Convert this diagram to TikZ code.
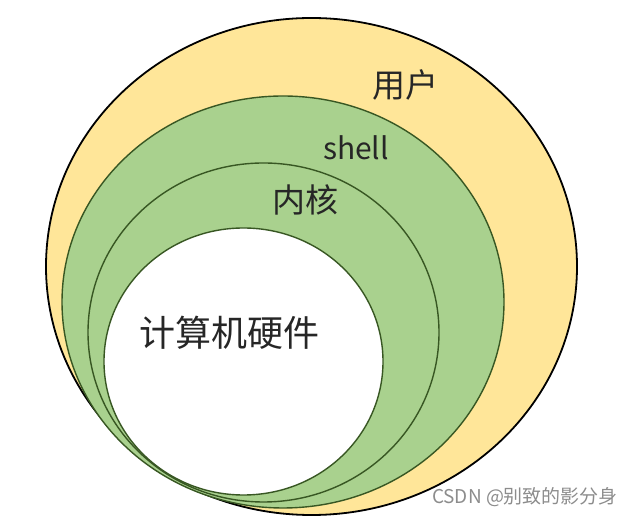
\documentclass[tikz,border=0pt]{standalone}
\usepackage{fontspec}
\setmainfont{Noto Sans CJK SC}
\definecolor{userfill}{HTML}{FFE699}
\definecolor{shellfill}{HTML}{A9D18E}
\definecolor{shellline}{HTML}{385723}
\begin{document}
\begin{tikzpicture}
[
    x=1pt, y=1pt,
    ring/.style={fill=shellfill, draw=shellline, line width=1.4pt},
    tag/.style={inner sep=0pt, text=black!85}
]
    \useasboundingbox (0,0) rectangle (635,519);
    % layers, from outside in
    \filldraw [fill=userfill, draw=black, line width=1.8pt] (311.5,252.5) ellipse [x radius=265.5, y radius=248.5];
    \filldraw [ring] (283,217) ellipse [x radius=221, y radius=206];
    \filldraw [ring] (263.5,186.5) ellipse [x radius=175.5, y radius=169.5];
    \filldraw [ring, fill=white] (243.5,157.5) ellipse [x radius=139.5, y radius=133.5];
    % labels
    \node [tag, font=\fontsize{33}{38}\selectfont] (user) at (405,434) {用户};
    \node [tag, font=\fontsize{30}{36}\selectfont] (shell) at (356,371) {shell};
    \node [tag, font=\fontsize{33}{38}\selectfont] (kernel) at (305,319) {内核};
    \node [tag, font=\fontsize{36}{42}\selectfont] (hardware) at (229,186) {计算机硬件};
    \node [tag, text=black!45, font=\fontsize{19}{22}\selectfont] (mark) at (525,22) {CSDN @别致的影分身};
\end{tikzpicture}
\end{document}
